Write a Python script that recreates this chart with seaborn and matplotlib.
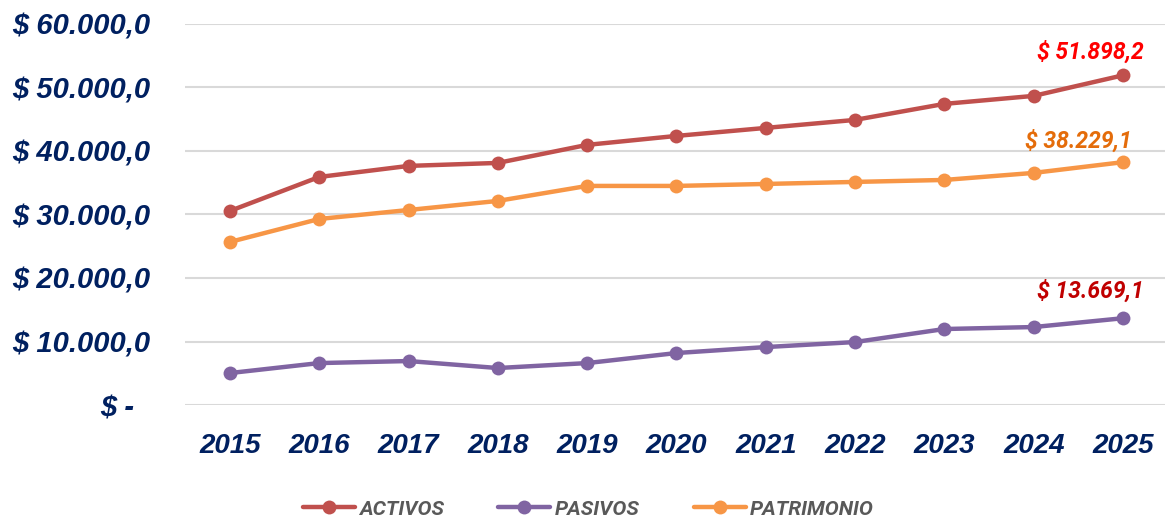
import matplotlib
matplotlib.use("Agg")
import matplotlib.pyplot as plt
import seaborn as sns
import pandas as pd

years = ["2015", "2016", "2017", "2018", "2019", "2020", "2021", "2022", "2023", "2024", "2025"]
activos = [30550, 35900, 37640, 38110, 40950, 42360, 43620, 44880, 47400, 48660, 51898.2]
pasivos = [5040, 6610, 6930, 5830, 6610, 8190, 9130, 9920, 11970, 12280, 13669.1]
patrimonio = [25670, 29290, 30700, 32130, 34490, 34490, 34800, 35120, 35430, 36540, 38229.1]
series_names = ["ACTIVOS", "PASIVOS", "PATRIMONIO"]
y_ticks = [0, 10000, 20000, 30000, 40000, 50000, 60000]
y_tick_labels = ["$ -  ", "$ 10.000,0", "$ 20.000,0", "$ 30.000,0", "$ 40.000,0", "$ 50.000,0", "$ 60.000,0"]
end_labels = ["$ 51.898,2", "$ 13.669,1", "$ 38.229,1"]

colors = {"ACTIVOS": "#C0504D", "PASIVOS": "#8064A2", "PATRIMONIO": "#F79646"}
label_colors = {"ACTIVOS": "#FF0000", "PASIVOS": "#C00000", "PATRIMONIO": "#E46C0A"}
label_offsets = {"ACTIVOS": (15, 8), "PASIVOS": (15, 11), "PATRIMONIO": (6, 7)}
accent_font = ["Roboto", "DejaVu Sans"]

rows = []
for name, vals in zip(series_names, [activos, pasivos, patrimonio]):
    for i, v in enumerate(vals):
        rows.append({"pos": i, "year": years[i], "valor": v, "serie": name})
df = pd.DataFrame(rows)

sns.set_theme(style="white")
plt.rcParams["font.family"] = ["Liberation Sans", "DejaVu Sans"]

fig = plt.figure(figsize=(11.65, 5.18), dpi=100)
ax = fig.add_axes([0.159, 0.218, 0.841, 0.736])

for name in series_names:
    sub = df[df["serie"] == name]
    sns.lineplot(data=sub, x="pos", y="valor", ax=ax, color=colors[name], lw=3.2,
                 marker="o", markersize=10, markeredgewidth=0, label=name,
                 solid_capstyle="round")

ax.set_xlim(-0.5, 10.47)
ax.set_ylim(0, 60000)
ax.set_yticks(y_ticks)
ax.set_yticklabels(y_tick_labels)
ax.set_xticks(range(len(years)))
ax.set_xticklabels(years)
ax.set_xlabel("")
ax.set_ylabel("")
ax.yaxis.grid(True, color="#D9D9D9", lw=1.5)
ax.xaxis.grid(False)
for s in ax.spines.values():
    s.set_visible(False)
ax.tick_params(axis="y", length=0, pad=25)
ax.tick_params(axis="x", length=0, pad=20)
for lab in ax.get_yticklabels() + ax.get_xticklabels():
    lab.set_fontsize(21)
    lab.set_fontweight("bold")
    lab.set_fontstyle("italic")
    lab.set_color("#002060")
for lab in ax.get_xticklabels():
    lab.set_fontsize(20)

# end-point labels
last = len(years) - 1
for name, txt, vals in zip(series_names, end_labels, [activos, pasivos, patrimonio]):
    ax.annotate(txt, xy=(last, vals[-1]), xytext=label_offsets[name], textcoords="offset points",
                ha="right", va="bottom", fontsize=16.5, fontweight="bold", fontstyle="italic",
                color=label_colors[name], family=accent_font)

leg = ax.legend(loc="center", ncol=3, frameon=False, handlelength=2.5, columnspacing=2.6,
                handletextpad=0.2, fontsize=15)
leg.set_bbox_to_anchor((0.505, 0.017), transform=fig.transFigure)
for t in leg.get_texts():
    t.set_color("#595959")
    t.set_family(accent_font)
    t.set_fontweight("bold")
    t.set_fontstyle("italic")
    t.set_fontsize(15)

fig.savefig("out.png", dpi=100)
